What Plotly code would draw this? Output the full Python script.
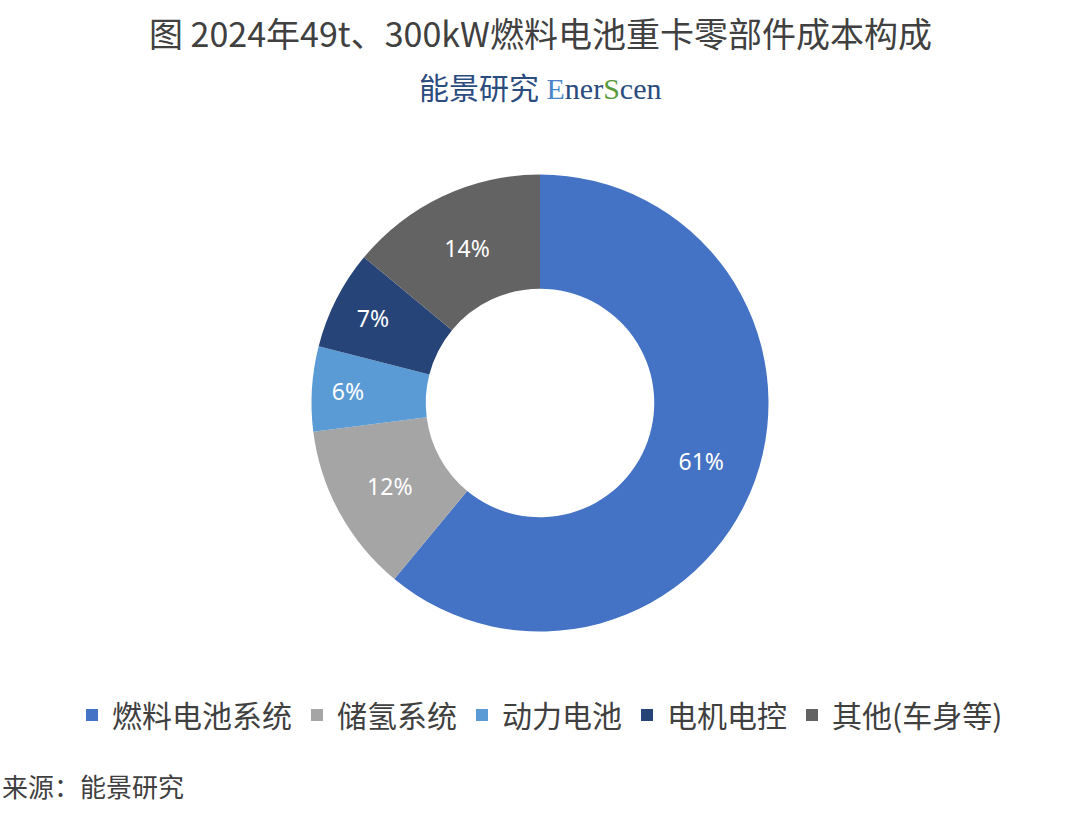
import plotly.graph_objects as go

categories = ["燃料电池系统", "储氢系统", "动力电池", "电机电控", "其他(车身等)"]
values = [61, 12, 6, 7, 14]
colors = ["#4472C4", "#A5A5A5", "#5B9BD5", "#264478", "#636363"]

W, H = 1080, 819
cx, cy, r = 540, 403, 228.5

fig = go.Figure(go.Pie(
    labels=categories,
    values=values,
    hole=0.5,
    sort=False,
    direction="clockwise",
    rotation=0,
    marker=dict(colors=colors, line=dict(width=0)),
    textinfo="percent",
    texttemplate="%{value}%",
    textposition="inside",
    insidetextorientation="horizontal",
    textfont=dict(family="Noto Sans, Noto Sans CJK SC", size=23, color="white"),
    domain=dict(x=[(cx - r) / W, (cx + r) / W], y=[(H - cy - r) / H, (H - cy + r) / H]),
    hoverinfo="label+percent",
))

fig.update_layout(
    width=W, height=H,
    margin=dict(l=0, r=0, t=0, b=0),
    paper_bgcolor="white",
    plot_bgcolor="white",
    font=dict(family="Noto Sans CJK SC", color="#404040"),
    showlegend=True,
    legend=dict(
        orientation="h", x=0.5, xanchor="center", y=(H - 715) / H, yanchor="middle",
        font=dict(family="Noto Sans CJK SC", size=30, color="#404040"),
        itemsizing="constant",
    ),
    annotations=[
        dict(text="图 2024年49t、300kW燃料电池重卡零部件成本构成", x=0.5, y=1 - 33 / H,
             xref="paper", yref="paper", xanchor="center", yanchor="middle", showarrow=False,
             font=dict(family="Noto Sans CJK SC", size=34, color="#404040")),
        dict(text="<span style='color:#2B4C7E'>能景研究 </span><span style='color:#4A86C8'>E</span>"
                  "<span style='color:#2B4C7E'>ner</span><span style='color:#5A9A3C'>S</span>"
                  "<span style='color:#2B4C7E'>cen</span>",
             x=0.5, y=1 - 88 / H, xref="paper", yref="paper", xanchor="center", yanchor="middle",
             showarrow=False, font=dict(family="Liberation Serif, Noto Sans CJK SC", size=30)),
        dict(text="来源：能景研究", x=0, y=1 - 785 / H, xref="paper", yref="paper",
             xanchor="left", yanchor="middle", showarrow=False,
             font=dict(family="Noto Sans CJK SC", size=26, color="#404040")),
    ],
)

fig.write_html("out.html", config={"displayModeBar": False},
               post_script="document.body.style.margin='0';")
